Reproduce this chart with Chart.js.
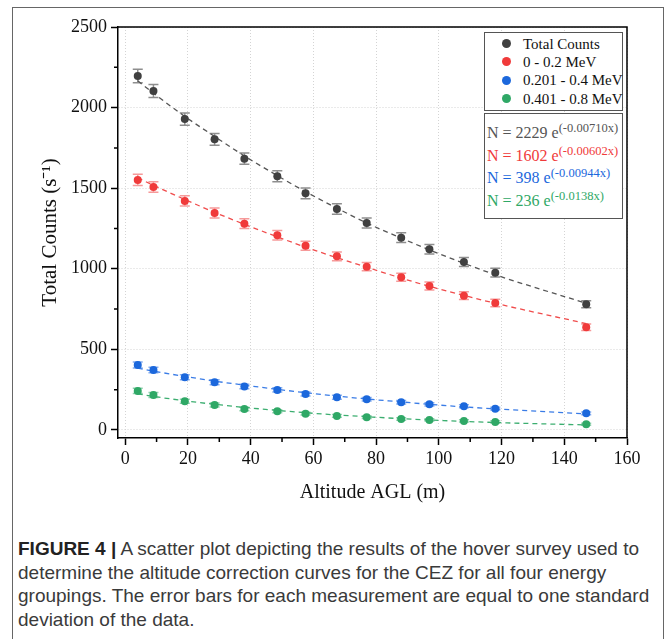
<!DOCTYPE html>
<html>
<head>
<meta charset="utf-8">
<script src="https://cdn.jsdelivr.net/npm/chart.js@4.4.1/dist/chart.umd.min.js"></script>
<style>
  html, body { margin: 0; padding: 0; background: #fff; }
  body { width: 667px; height: 639px; position: relative; overflow: hidden; }
  #frame { position: absolute; left: 12px; top: 7px; width: 650px; height: 640px; border: 1px solid #666; border-bottom: none; }
  #wrap { position: absolute; left: 0; top: 0; width: 667px; height: 520px; }
  .box { position: absolute; border: 1.5px solid #555; background: #fff; font-family: "Liberation Serif", serif; box-sizing: border-box; }
  #legend { left: 484px; top: 32px; width: 139px; height: 79px; }
  #equations { left: 484px; top: 113px; width: 139px; height: 106px; }
  .row { position: absolute; white-space: nowrap; }
  #legend .row { left: 0; font-size: 15px; color: #111; height: 18px; line-height: 18px; }
  #legend .dot { position: absolute; left: 17px; top: 4.5px; width: 9px; height: 9px; border-radius: 50%; }
  #legend .lbl { position: absolute; left: 38px; }
  #equations .row { left: 2px; font-size: 16px; height: 22px; line-height: 22px; }
  #equations sup { font-size: 12.5px; vertical-align: 0; position: relative; top: -6px; }
  #caption { position: absolute; left: 18px; top: 537px; width: 645px; font-family: "Liberation Sans", Arial, sans-serif; font-size: 19px; line-height: 23.7px; color: #3a3a3a; white-space: nowrap; }
  #caption b { color: #222; }
</style>
</head>
<body>
<div id="frame"></div>
<div id="wrap"><canvas id="hoverChart"></canvas></div>
<div id="legend" class="box"></div>
<div id="equations" class="box"></div>
<div id="caption">
  <b>FIGURE 4 |</b> A scatter plot depicting the results of the hover survey used to<br>
  determine the altitude correction curves for the CEZ for all four energy<br>
  groupings. The error bars for each measurement are equal to one standard<br>
  deviation of the data.
</div>
<script>
// altitude of each hover point (m)
const altitude = [4, 9, 19, 28.5, 38, 48.5, 57.5, 67.5, 77, 88, 97, 108, 118, 147];

const seriesLabels = ['Total Counts', '0 - 0.2 MeV', '0.201 - 0.4 MeV', '0.401 - 0.8 MeV'];

const totalCounts = [2196, 2103, 1929, 1803, 1683, 1574, 1468, 1371, 1284, 1193, 1121, 1042, 976, 780];
const band1Counts = [1551, 1507, 1421, 1346, 1280, 1208, 1143, 1077, 1013, 947, 893, 833, 788, 637];
const band2Counts = [403, 372, 327, 296, 269, 248, 223, 203, 190, 172, 159, 147, 132, 103];
const band3Counts = [242, 217, 178, 155, 130, 116, 101, 87, 79, 68, 62, 56, 50, 35];

const totalErr = [42, 40, 38, 36, 35, 34, 33, 32, 31, 30, 29, 28, 27, 22];
const band1Err = [35, 33, 32, 31, 30, 29, 28, 27, 26, 25, 25, 24, 23, 20];
const band2Err = [18, 17, 16, 15, 14, 13, 12, 12, 11, 11, 10, 10, 9, 9];
const band3Err = [16, 15, 13, 12, 11, 10, 9, 9, 8, 8, 7, 7, 7, 6];

// fitted exponential curves, read at the same altitudes
const totalFit = [2166, 2090, 1945, 1821, 1700, 1578, 1478, 1376, 1284, 1190, 1117, 1034, 963, 786];
const band1Fit = [1564, 1518, 1430, 1350, 1276, 1198, 1134, 1069, 1010, 942, 891, 835, 786, 660];
const band2Fit = [383, 365, 332, 303, 278, 252, 231, 210, 192, 174, 159, 143, 131, 99];
const band3Fit = [224, 208, 181, 159, 140, 121, 107, 93, 82, 70, 62, 53, 46, 31];

const fitPrefix = ['N = 2229 e', 'N = 1602 e', 'N = 398 e', 'N = 236 e'];
const fitExponent = ['(-0.00710x)', '(-0.00602x)', '(-0.00944x)', '(-0.0138x)'];

const xTicks = [0, 20, 40, 60, 80, 100, 120, 140, 160];
const yTicks = [0, 500, 1000, 1500, 2000, 2500];
const xMinorStep = 10;
const yMinorStep = 250;

const pointColors = ['#404040', '#f03a3a', '#1c68dc', '#2fa866'];
const errColors = ['#8e8e8e', '#f69a9a', '#86aef0', '#8fd0ae'];
const fitColors = ['#555555', '#f04c4c', '#3a7ce6', '#3cae70'];
const eqColors = ['#555555', '#f03a3a', '#1c68dc', '#2fa866'];

const counts = [totalCounts, band1Counts, band2Counts, band3Counts];
const errors = [totalErr, band1Err, band2Err, band3Err];
const fits = [totalFit, band1Fit, band2Fit, band3Fit];

function toPoints(ys) {
  return altitude.map((x, i) => ({ x, y: ys[i] }));
}

const datasets = [];
counts.forEach((ys, i) => {
  datasets.push({
    label: seriesLabels[i],
    data: toPoints(ys),
    errors: errors[i],
    errorColor: errColors[i],
    backgroundColor: pointColors[i],
    borderColor: pointColors[i],
    pointRadius: 4,
    pointBorderWidth: 0,
    showLine: false,
    order: 1
  });
});
fits.forEach((ys, i) => {
  datasets.push({
    label: seriesLabels[i] + ' fit',
    data: toPoints(ys),
    borderColor: fitColors[i],
    borderWidth: 1.3,
    borderDash: [5, 4],
    pointRadius: 0,
    showLine: true,
    fill: false,
    cubicInterpolationMode: 'monotone',
    order: 2
  });
});

const errorBars = {
  id: 'errorBars',
  beforeDatasetsDraw(chart) {
    const { ctx, scales: { x, y } } = chart;
    chart.data.datasets.forEach(ds => {
      if (!ds.errors) return;
      ctx.save();
      ctx.strokeStyle = ds.errorColor;
      ctx.lineWidth = 1.5;
      ds.data.forEach((p, j) => {
        const px = x.getPixelForValue(p.x);
        const top = y.getPixelForValue(p.y + ds.errors[j]);
        const bot = y.getPixelForValue(p.y - ds.errors[j]);
        ctx.beginPath();
        ctx.moveTo(px, top); ctx.lineTo(px, bot);
        ctx.moveTo(px - 5, top); ctx.lineTo(px + 5, top);
        ctx.moveTo(px - 5, bot); ctx.lineTo(px + 5, bot);
        ctx.stroke();
      });
      ctx.restore();
    });
  }
};

const frameBox = {
  id: 'frameBox',
  afterDraw(chart) {
    const { ctx, chartArea: a, scales: { x, y } } = chart;
    ctx.save();
    ctx.strokeStyle = '#000';
    ctx.lineWidth = 1.5;
    ctx.beginPath();
    ctx.moveTo(a.left, a.top); ctx.lineTo(a.right, a.top); ctx.lineTo(a.right, a.bottom);
    // minor ticks
    for (let v = xTicks[0] + xMinorStep; v < xTicks[xTicks.length - 1]; v += 2 * xMinorStep) {
      const px = x.getPixelForValue(v);
      ctx.moveTo(px, a.bottom); ctx.lineTo(px, a.bottom + 4);
    }
    for (let v = yTicks[0] + yMinorStep; v < yTicks[yTicks.length - 1]; v += 2 * yMinorStep) {
      const py = y.getPixelForValue(v);
      ctx.moveTo(a.left, py); ctx.lineTo(a.left - 4, py);
    }
    ctx.stroke();
    ctx.restore();
  }
};

const serif = '"Liberation Serif", serif';

new Chart(document.getElementById('hoverChart'), {
  type: 'scatter',
  data: { datasets },
  options: {
    responsive: true,
    maintainAspectRatio: false,
    animation: false,
    devicePixelRatio: 1,
    layout: { padding: { left: 0, right: 40, top: 27, bottom: 0 } },
    plugins: {
      legend: { display: false },
      tooltip: { enabled: false }
    },
    scales: {
      x: {
        type: 'linear',
        min: -2.3,
        max: 160,
        afterBuildTicks: s => { s.ticks = xTicks.map(v => ({ value: v })); },
        afterFit: s => { s.height = 82; },
        ticks: { font: { family: serif, size: 18 }, color: '#111', padding: 3, maxRotation: 0, callback: v => String(v) },
        grid: { color: '#d4d4d4', lineWidth: 1, tickColor: '#000', tickLength: 7, tickWidth: 1.5 },
        border: { display: true, color: '#000', width: 1.5, dash: [1, 2] },
        title: { display: true, text: 'Altitude AGL (m)', font: { family: serif, size: 20 }, color: '#111', padding: { top: 0, bottom: 15 } }
      },
      y: {
        type: 'linear',
        min: -50,
        max: 2500,
        afterBuildTicks: s => { s.ticks = yTicks.map(v => ({ value: v })); },
        afterFit: s => { s.width = 118; },
        ticks: { font: { family: serif, size: 18 }, color: '#111', padding: 4, callback: v => String(v) },
        grid: { color: '#d4d4d4', lineWidth: 1, tickColor: '#000', tickLength: 7, tickWidth: 1.5 },
        border: { display: true, color: '#000', width: 1.5, dash: [1, 2] },
        title: { display: true, text: 'Total Counts (s⁻¹)', font: { family: serif, size: 21 }, color: '#111', padding: { top: 38, bottom: 0 } }
      }
    }
  },
  plugins: [errorBars, frameBox]
});

// legend and fit-equation boxes
const legendBox = document.getElementById('legend');
const legendRowTop = [1.5, 19.5, 38, 56.5];
seriesLabels.forEach((label, i) => {
  const row = document.createElement('div');
  row.className = 'row';
  row.style.top = legendRowTop[i] + 'px';
  row.innerHTML = `<span class="dot" style="background:${pointColors[i]}"></span><span class="lbl">${label}</span>`;
  legendBox.appendChild(row);
});

const eqBox = document.getElementById('equations');
const eqRowTop = [8, 30.5, 53, 75.5];
fitPrefix.forEach((txt, i) => {
  const row = document.createElement('div');
  row.className = 'row';
  row.style.top = eqRowTop[i] + 'px';
  row.style.color = eqColors[i];
  row.innerHTML = `${txt}<sup>${fitExponent[i]}</sup>`;
  eqBox.appendChild(row);
});
</script>
</body>
</html>
